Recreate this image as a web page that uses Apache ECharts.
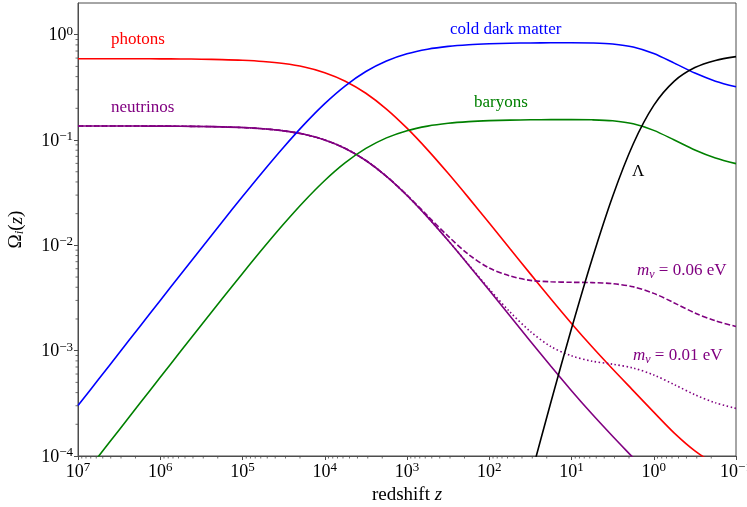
<!DOCTYPE html>
<html>
<head>
<meta charset="utf-8">
<script src="https://cdn.jsdelivr.net/npm/echarts@6/dist/echarts.min.js"></script>
<style>
  html, body { margin: 0; padding: 0; background: #ffffff; }
  #chart { width: 747px; height: 507px; }
</style>
</head>
<body>
<div id="chart"></div>
<script>
// Redshift sample points (quarter-decade steps, from early to late times)
const redshift = [1e7, 5.623e6, 3.162e6, 1.778e6, 1e6, 5.623e5, 3.162e5, 1.778e5,
  1e5, 5.623e4, 3.162e4, 1.778e4, 1e4, 5623, 3162, 1778, 1000, 562.3, 316.2, 177.8,
  100, 56.23, 31.62, 17.78, 10, 5.623, 3.162, 1.778, 1, 0.5623, 0.3162, 0.1778, 0.1];

// Density parameters Omega_i(z) of each component
const photons = [0.5918, 0.5916, 0.5913, 0.5908, 0.5899, 0.5883, 0.5854, 0.5803,
  0.5716, 0.5567, 0.5319, 0.4930, 0.4363, 0.3621, 0.2781, 0.1969, 0.1296, 0.08069,
  0.04830, 0.02823, 0.01629, 0.00934, 0.00536, 0.003097, 0.001815, 0.001088,
  0.000669, 0.000418, 0.000261, 0.000165, 0.000112, 0.0000839, 0.0000694];

const coldDarkMatter = [3.009e-4, 5.349e-4, 9.506e-4, 1.689e-3, 2.999e-3, 5.319e-3,
  9.411e-3, 0.01659, 0.02906, 0.05033, 0.08551, 0.1409, 0.2218, 0.3273, 0.4470,
  0.5626, 0.6584, 0.7281, 0.7742, 0.8028, 0.8198, 0.8297, 0.8353, 0.8383, 0.8390,
  0.8352, 0.8175, 0.7650, 0.6629, 0.5373, 0.4320, 0.3623, 0.3206];

const baryons = [5.603e-5, 9.961e-5, 1.770e-4, 3.146e-4, 5.585e-4, 9.905e-4,
  1.753e-3, 3.090e-3, 5.412e-3, 9.373e-3, 0.01593, 0.02625, 0.04131, 0.06096,
  0.08324, 0.1048, 0.1226, 0.1356, 0.1442, 0.1495, 0.1527, 0.1545, 0.1556, 0.1561,
  0.1563, 0.1556, 0.1522, 0.1425, 0.1235, 0.1001, 0.0805, 0.0675, 0.0597];

const neutrinos = [0.1360, 0.1359, 0.1358, 0.1357, 0.1355, 0.1352, 0.1345, 0.1333,
  0.1313, 0.1279, 0.1222, 0.1133, 0.1002, 0.08319, 0.06389, 0.04523, 0.02977,
  0.01854, 0.01110, 0.006485, 0.003742, 0.002146, 0.001231, 0.0007115, 0.000417,
  0.00025, 0.0001538, 0.00009603, 0.00005989, 0.00003793, 0.0000257, 0.00001928,
  0.00001594];

// Massive neutrino species, m = 0.06 eV
const neutrinos006 = [0.1360, 0.1359, 0.1358, 0.1357, 0.1355, 0.1352, 0.1345, 0.1333,
  0.1313, 0.1279, 0.1222, 0.1133, 0.1002, 0.08319, 0.06389, 0.04523, 0.03005,
  0.01908, 0.01222, 0.00818, 0.00609, 0.00513, 0.00465, 0.00451, 0.00446, 0.00443,
  0.00433, 0.00404, 0.00350, 0.00284, 0.00228, 0.00192, 0.00170];

// Massive neutrino species, m = 0.01 eV
const neutrinos001 = [0.1360, 0.1359, 0.1358, 0.1357, 0.1355, 0.1352, 0.1345, 0.1333,
  0.1313, 0.1279, 0.1222, 0.1133, 0.1002, 0.08319, 0.06389, 0.04523, 0.02977,
  0.01854, 0.01113, 0.006537, 0.00385, 0.00234, 0.00152, 0.001092, 0.000893,
  0.000795, 0.000744, 0.000684, 0.000588, 0.000476, 0.000382, 0.00032, 0.000283];

// Cosmological constant (negligible before z ~ 1000)
const lambda = [null, null, null, null, null, null, null, null, null, null, null,
  null, null, null, null, null, 1.69e-9, 1.05e-8, 6.24e-8, 3.61e-7, 2.04e-6,
  1.139e-5, 6.19e-5, 3.255e-4, 1.621e-3, 7.394e-3, 0.02916, 0.09175, 0.2131,
  0.3624, 0.4873, 0.5701, 0.6195];

// Axis decades and minor-tick mantissas
const xTickExponents = [7, 6, 5, 4, 3, 2, 1, 0, -1];
const yTickExponents = [0, -1, -2, -3, -4];
const minorMantissas = [2, 3, 4, 5, 6, 7, 8, 9];

const SERIF = "'Liberation Serif', 'DejaVu Serif', 'Times New Roman', serif";
const FRAME = '#4d4d4d';

function pairs(values) {
  const out = [];
  redshift.forEach((z, i) => { if (values[i] != null) out.push([z, values[i]]); });
  return out;
}

function decadeLabel(exponents) {
  return function (v) {
    const lg = Math.log10(v);
    const e = Math.round(lg);
    if (Math.abs(lg - e) > 1e-6 || exponents.indexOf(e) < 0) return '';
    return '{b|10}{s|' + (e < 0 ? '\u2212' + (-e) : String(e)) + '}';
  };
}

const tickRich = {
  b: { fontFamily: SERIF, fontSize: 18, color: '#000', lineHeight: 20, verticalAlign: 'bottom' },
  s: { fontFamily: SERIF, fontSize: 13, color: '#000', lineHeight: 13, verticalAlign: 'top' }
};

// minor tick positions along each axis
const xMinor = [];
for (let e = -1; e < 7; e++) minorMantissas.forEach(m => xMinor.push(m * Math.pow(10, e)));
const yMinor = [];
for (let e = -4; e < 0; e++) minorMantissas.forEach(m => yMinor.push(m * Math.pow(10, e)));

function curve(name, values, color, type, z) {
  return {
    name: name, type: 'line', data: pairs(values), showSymbol: false, smooth: 0.3,
    silent: true, animation: false, z: z,
    lineStyle: { color: color, width: 1.6, type: type || 'solid', cap: 'butt' }
  };
}

const chart = echarts.init(document.getElementById('chart'), null, { renderer: 'canvas' });

chart.setOption({
  backgroundColor: '#ffffff',
  animation: false,
  grid: { left: 78, right: 11, top: 3, bottom: 51, outerBoundsMode: 'none', containLabel: false,
          show: true, borderColor: FRAME, borderWidth: 1, backgroundColor: 'transparent' },
  xAxis: {
    type: 'log', logBase: 10, min: 0.1, max: 1e7, inverse: true,
    name: '{n|redshift }{z|z}', nameLocation: 'middle', nameGap: 27,
    nameTextStyle: { rich: {
      n: { fontFamily: SERIF, fontSize: 19, color: '#000' },
      z: { fontFamily: SERIF, fontSize: 19, fontStyle: 'italic', color: '#000' }
    } },
    axisLine: { show: true, lineStyle: { color: FRAME, width: 1 } },
    axisTick: { show: true, inside: false, length: 4, lineStyle: { color: FRAME, width: 1 } },
    axisLabel: { formatter: decadeLabel(xTickExponents), margin: 5, rich: tickRich, showMinLabel: true, showMaxLabel: true },
    splitLine: { show: false }
  },
  yAxis: {
    type: 'log', logBase: 10, min: 1e-4, max: 2,
    name: '{o|\u03a9}{i|i}{p|(}{z|z}{p|)}', nameLocation: 'middle', nameGap: 52, nameRotate: 90,
    nameTextStyle: { rich: {
      o: { fontFamily: SERIF, fontSize: 19, color: '#000' },
      i: { fontFamily: SERIF, fontSize: 13, fontStyle: 'italic', color: '#000', verticalAlign: 'bottom', padding: [6, 0, 0, 0] },
      p: { fontFamily: SERIF, fontSize: 19, color: '#000' },
      z: { fontFamily: SERIF, fontSize: 19, fontStyle: 'italic', color: '#000' }
    } },
    axisLine: { show: true, lineStyle: { color: FRAME, width: 1 } },
    axisTick: { show: true, inside: false, length: 4, lineStyle: { color: FRAME, width: 1 } },
    axisLabel: { formatter: decadeLabel(yTickExponents), margin: 5, rich: tickRich, showMaxLabel: false },
    splitLine: { show: false }
  },
  series: [
    curve('photons', photons, '#ff0000', 'solid', 2),
    curve('neutrinos', neutrinos, '#800080', 'solid', 2),
    curve('m=0.06 eV', neutrinos006, '#800080', [5.5, 2.4], 3),
    curve('m=0.01 eV', neutrinos001, '#800080', [1.5, 2.5], 3),
    curve('cold dark matter', coldDarkMatter, '#0000ff', 'solid', 4),
    curve('baryons', baryons, '#008000', 'solid', 4),
    curve('Lambda', lambda, '#000000', 'solid', 5),
    {
      type: 'custom', silent: true, animation: false, clip: false, z: 6,
      data: xMinor.map(v => [v, 1e-4]),
      renderItem: function (params, api) {
        const p = api.coord([api.value(0), api.value(1)]);
        return { type: 'line', shape: { x1: p[0], y1: p[1], x2: p[0], y2: p[1] + 2.5 },
                 style: { stroke: FRAME, lineWidth: 0.8 } };
      }
    },
    {
      type: 'custom', silent: true, animation: false, clip: false, z: 6,
      data: yMinor.map(v => [1e7, v]),
      renderItem: function (params, api) {
        const p = api.coord([api.value(0), api.value(1)]);
        return { type: 'line', shape: { x1: p[0] - 2.5, y1: p[1], x2: p[0], y2: p[1] },
                 style: { stroke: FRAME, lineWidth: 0.8 } };
      }
    }
  ],
  graphic: [
    { type: 'text', x: 111, y: 40, silent: true, style: { text: 'photons', fill: '#ff0000', font: '17px ' + SERIF, verticalAlign: 'middle' } },
    { type: 'text', x: 111, y: 108, silent: true, style: { text: 'neutrinos', fill: '#800080', font: '17px ' + SERIF, verticalAlign: 'middle' } },
    { type: 'text', x: 450, y: 30, silent: true, style: { text: 'cold dark matter', fill: '#0000ff', font: '17px ' + SERIF, verticalAlign: 'middle' } },
    { type: 'text', x: 474, y: 103, silent: true, style: { text: 'baryons', fill: '#008000', font: '17px ' + SERIF, verticalAlign: 'middle' } },
    { type: 'text', x: 632, y: 172, silent: true, style: { text: '\u039b', fill: '#000000', font: '17px ' + SERIF, verticalAlign: 'middle' } },
    { type: 'text', x: 637, y: 271, silent: true, style: {
      text: '{m|m}{n|\u03bd}{t| = 0.06 eV}', fill: '#800080', verticalAlign: 'middle',
      rich: {
        m: { fontFamily: SERIF, fontSize: 17, fontStyle: 'italic', fill: '#800080' },
        n: { fontFamily: SERIF, fontSize: 12, fontStyle: 'italic', fill: '#800080', verticalAlign: 'bottom', padding: [7, 0, 0, 0] },
        t: { fontFamily: SERIF, fontSize: 17, fill: '#800080' }
      } } },
    { type: 'text', x: 633, y: 356, silent: true, style: {
      text: '{m|m}{n|\u03bd}{t| = 0.01 eV}', fill: '#800080', verticalAlign: 'middle',
      rich: {
        m: { fontFamily: SERIF, fontSize: 17, fontStyle: 'italic', fill: '#800080' },
        n: { fontFamily: SERIF, fontSize: 12, fontStyle: 'italic', fill: '#800080', verticalAlign: 'bottom', padding: [7, 0, 0, 0] },
        t: { fontFamily: SERIF, fontSize: 17, fill: '#800080' }
      } } }
  ]
});
</script>
</body>
</html>
